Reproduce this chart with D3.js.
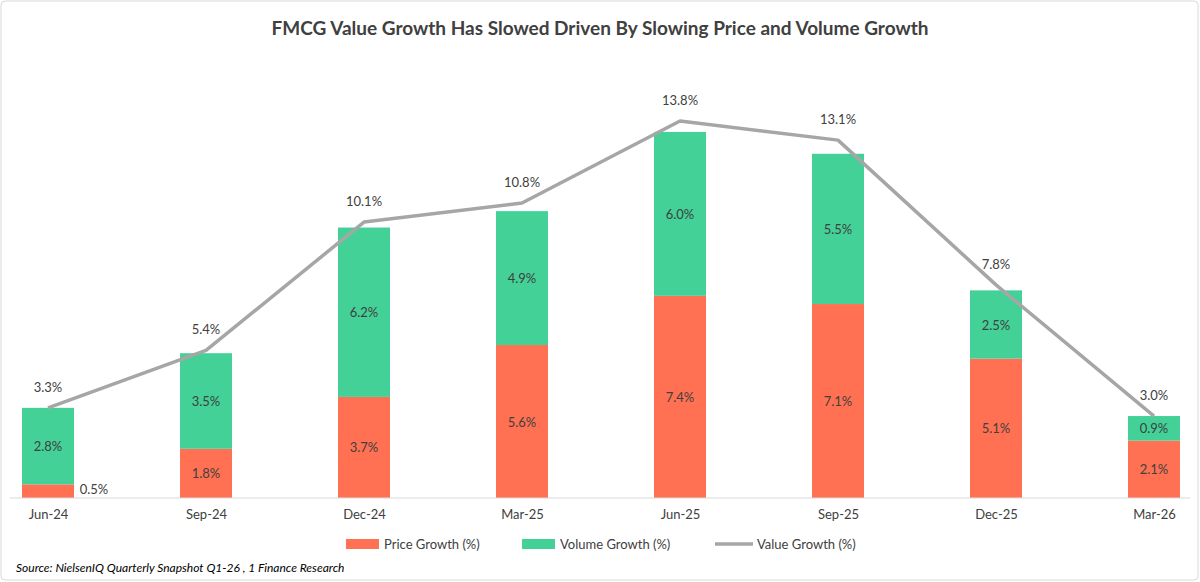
<!DOCTYPE html>
<html><head><meta charset="utf-8">
<script src="https://cdn.jsdelivr.net/npm/d3@7"></script>
<style>body{margin:0;background:#fff;font-family:Lato,"Open Sans",sans-serif}</style>
</head><body>
<svg id="chart" width="1200" height="582"></svg>
<script>
var quarters = ["Jun-24","Sep-24","Dec-24","Mar-25","Jun-25","Sep-25","Dec-25","Mar-26"];
var priceGrowth = [0.5, 1.8, 3.7, 5.6, 7.4, 7.1, 5.1, 2.1];
var volumeGrowth = [2.8, 3.5, 6.2, 4.9, 6.0, 5.5, 2.5, 0.9];
var valueGrowth = [3.3, 5.4, 10.1, 10.8, 13.8, 13.1, 7.8, 3.0];

var cPrice = '#ff7152', cVolume = '#43d197', cValue = '#a6a6a6', cText = '#404040';

var svg = d3.select('#chart');
svg.append('rect').attr('x',1).attr('y',1).attr('width',1197).attr('height',579)
	.attr('rx',4).attr('fill','#fff').attr('stroke','#d9d9d9');

svg.append('text').attr('x',600).attr('y',35).attr('text-anchor','middle')
	.attr('font-size',19).attr('font-weight','bold').attr('fill',cText)
	.text('FMCG Value Growth Has Slowed Driven By Slowing Price and Volume Growth');

var x = d3.scalePoint().domain(quarters).range([48,1154]);
var y = d3.scaleLinear().domain([0,13.8]).range([498,121]);
var bw = 52;

var g = svg.append('g');
quarters.forEach(function(q,i){
	var cx = x(q), p = priceGrowth[i], v = volumeGrowth[i];
	g.append('rect').attr('x',cx-bw/2).attr('width',bw).attr('y',y(p)).attr('height',y(0)-y(p)).attr('fill',cPrice);
	g.append('rect').attr('x',cx-bw/2).attr('width',bw).attr('y',y(p+v)).attr('height',y(p)-y(p+v)).attr('fill',cVolume);
	var small = p < 1;
	g.append('text').attr('x', small ? cx+bw/2+20 : cx).attr('y', small ? y(0)-4 : y(p/2)+5)
		.attr('text-anchor','middle').attr('font-size',13).attr('fill',cText).text(p.toFixed(1)+'%');
	g.append('text').attr('x',cx).attr('y',y(p+v/2)+5)
		.attr('text-anchor','middle').attr('font-size',13).attr('fill',cText).text(v.toFixed(1)+'%');
});

var line = d3.line().x(function(d,i){ return x(quarters[i]); }).y(function(d){ return y(d); });
g.append('path').datum(valueGrowth).attr('d',line).attr('fill','none')
	.attr('stroke',cValue).attr('stroke-width',3.5).attr('stroke-linejoin','round');
valueGrowth.forEach(function(d,i){
	g.append('text').attr('x',x(quarters[i])).attr('y',y(d)-16)
		.attr('text-anchor','middle').attr('font-size',13).attr('fill',cText).text(d.toFixed(1)+'%');
});

var axis = svg.append('g').attr('transform','translate(0,498)')
	.call(d3.axisBottom(x).tickSize(0).tickPadding(12));
axis.select('.domain').attr('stroke','#d9d9d9').attr('d','M10,0H1190');
axis.selectAll('text').attr('font-size',13).attr('fill',cText).attr('font-family','Lato,sans-serif');

var legend = [
	{label:'Price Growth (%)', color:cPrice, type:'rect', x:346},
	{label:'Volume Growth (%)', color:cVolume, type:'rect', x:522},
	{label:'Value Growth (%)', color:cValue, type:'line', x:715}
];
legend.forEach(function(l){
	var lg = svg.append('g').attr('transform','translate('+l.x+',544)');
	if(l.type=='rect') lg.append('rect').attr('x',0).attr('y',-5).attr('width',33).attr('height',10).attr('fill',l.color);
	else lg.append('line').attr('x1',0).attr('x2',38).attr('stroke',l.color).attr('stroke-width',3.5);
	lg.append('text').attr('x', l.type=='rect' ? 38 : 42).attr('y',5).attr('font-size',13).attr('fill',cText).text(l.label);
});

svg.append('text').attr('x',16).attr('y',572).attr('font-size',12).attr('font-style','italic')
	.attr('fill','#000').text('Source: NielsenIQ Quarterly Snapshot Q1-26 , 1 Finance Research');
</script>
</body></html>
